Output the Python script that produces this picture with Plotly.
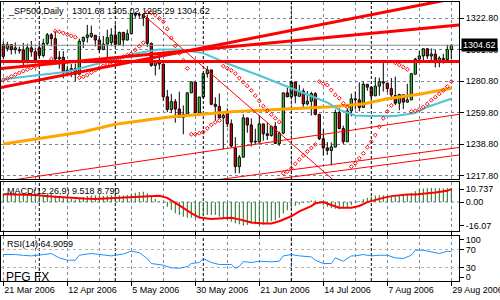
import plotly.graph_objects as go
import pandas as pd

# ---------------- data ----------------
holidays = ["2006-04-14", "2006-05-29", "2006-07-04"]
dates = [d for d in pd.bdate_range("2006-03-21", "2006-08-29") if d.strftime("%Y-%m-%d") not in holidays]

opens = [1305.1, 1302.5, 1305.0, 1301.7, 1300.9, 1301.6, 1293.2, 1302.9, 1300.3,
         1302.9, 1297.8, 1305.9, 1311.6, 1309.0, 1295.5, 1296.6, 1286.6, 1288.1, 1289.1,
         1285.3, 1307.3, 1309.9, 1310.5, 1311.3, 1308.1, 1301.7, 1305.4, 1306.5,
         1311.5, 1305.2, 1313.2, 1308.1, 1312.3, 1325.8, 1324.7, 1325.1, 1322.6, 1305.9, 1291.2, 1294.5,
         1292.1, 1270.3, 1261.8, 1267.0, 1262.1, 1256.6, 1258.6, 1272.9, 1280.0, 1259.4,
         1270.1, 1285.7, 1288.2, 1265.3, 1263.9, 1256.2, 1260.5, 1252.3, 1236.1, 1223.7, 1230.0, 1256.2,
         1251.5, 1240.6, 1240.1, 1252.2, 1245.6, 1244.5, 1250.6, 1239.0, 1246.0, 1272.9,
         1270.1, 1280.1, 1270.6, 1274.1, 1265.5, 1267.3, 1272.4, 1258.6, 1242.3, 1236.2,
         1234.5, 1236.7, 1259.8, 1249.1, 1240.3, 1260.9, 1268.9, 1268.2, 1263.2, 1278.6,
         1276.7, 1270.9, 1277.4, 1280.3, 1279.3, 1275.7, 1271.1, 1266.0, 1271.6, 1266.7,
         1268.2, 1285.3, 1295.4, 1297.5, 1302.3, 1297.5, 1298.7, 1293.0, 1295.9, 1295.1, 1301.68]
highs = [1307.3, 1306.9, 1305.5, 1306.5, 1303.7, 1306.2, 1305.6, 1307.5, 1303.0,
         1305.5, 1308.9, 1312.8, 1312.8, 1314.0, 1300.7, 1300.7, 1290.9, 1292.1, 1292.5,
         1309.0, 1310.4, 1318.2, 1317.7, 1311.3, 1310.8, 1310.8, 1315.0, 1316.0,
         1318.5, 1313.7, 1313.5, 1315.1, 1326.1, 1326.7, 1326.6, 1325.2, 1325.0, 1306.4, 1294.8, 1297.9,
         1292.1, 1274.9, 1272.2, 1268.8, 1273.7, 1264.5, 1273.3, 1280.6, 1280.0, 1270.1,
         1285.7, 1290.7, 1288.2, 1269.9, 1272.5, 1259.9, 1262.6, 1255.2, 1243.4, 1231.5, 1258.6, 1256.3,
         1255.9, 1249.0, 1258.0, 1252.2, 1253.1, 1250.9, 1253.4, 1247.1, 1272.9, 1276.3,
         1280.4, 1280.1, 1278.3, 1275.8, 1274.1, 1273.6, 1273.3, 1258.6, 1248.5, 1240.1,
         1239.9, 1261.8, 1262.6, 1251.0, 1262.5, 1272.4, 1273.9, 1279.9, 1280.4, 1278.6,
         1276.7, 1283.4, 1283.0, 1292.9, 1279.3, 1282.8, 1283.7, 1272.3, 1271.6, 1278.9,
         1286.2, 1296.2, 1300.8, 1302.3, 1302.3, 1302.5, 1301.5, 1297.3, 1298.9, 1305.0, 1305.02]
lows = [1295.2, 1300.5, 1298.5, 1298.9, 1299.0, 1290.4, 1292.5, 1297.0, 1294.2,
        1296.5, 1296.5, 1304.8, 1303.9, 1294.2, 1289.0, 1282.5, 1285.5, 1283.4, 1280.7,
        1285.3, 1302.8, 1306.4, 1309.5, 1303.8, 1299.2, 1301.7, 1295.6, 1304.0,
        1303.5, 1305.2, 1303.9, 1307.9, 1312.3, 1322.9, 1322.5, 1317.4, 1303.5, 1290.3, 1284.5, 1288.5,
        1267.6, 1260.0, 1259.5, 1253.0, 1256.2, 1245.3, 1258.6, 1272.9, 1259.3, 1259.4,
        1269.2, 1283.0, 1264.6, 1254.5, 1255.8, 1235.2, 1250.0, 1236.4, 1219.3, 1219.3, 1230.0, 1246.3,
        1237.2, 1238.9, 1240.1, 1241.0, 1241.4, 1243.7, 1238.9, 1237.6, 1245.3, 1270.2,
        1270.1, 1265.9, 1270.6, 1263.1, 1264.5, 1257.8, 1257.8, 1241.4, 1231.0, 1231.5,
        1224.5, 1236.7, 1248.5, 1238.7, 1240.3, 1257.2, 1261.9, 1260.6, 1263.2, 1274.3,
        1263.6, 1270.9, 1271.0, 1273.8, 1273.2, 1268.4, 1264.7, 1261.3, 1262.1, 1266.7,
        1268.2, 1285.3, 1292.7, 1293.6, 1295.5, 1294.7, 1289.8, 1290.0, 1292.4, 1294.0, 1295.29]
closes = [1297.2, 1305.0, 1301.7, 1302.9, 1301.6, 1293.2, 1302.9, 1300.3, 1294.9,
          1297.8, 1305.9, 1311.6, 1309.0, 1295.5, 1296.6, 1286.6, 1288.1, 1289.1, 1285.3,
          1307.3, 1309.9, 1311.5, 1312.5, 1308.1, 1301.7, 1305.4, 1309.7, 1311.5,
          1305.2, 1313.2, 1308.1, 1312.3, 1325.8, 1324.7, 1325.1, 1322.9, 1305.9, 1291.2, 1294.5, 1292.1,
          1270.3, 1261.8, 1267.0, 1262.1, 1256.6, 1258.6, 1272.9, 1280.2, 1259.7, 1270.1,
          1285.7, 1288.2, 1265.3, 1263.9, 1256.2, 1257.9, 1252.3, 1237.4, 1223.7, 1230.0, 1256.2, 1251.5,
          1240.1, 1240.1, 1252.2, 1245.6, 1244.5, 1250.6, 1239.2, 1246.0, 1272.9, 1270.2,
          1280.2, 1270.9, 1274.1, 1265.5, 1267.3, 1272.4, 1258.6, 1242.3, 1236.2, 1234.5,
          1236.9, 1259.8, 1249.1, 1240.3, 1260.9, 1268.9, 1268.4, 1263.2, 1278.6, 1276.7,
          1270.9, 1277.4, 1280.3, 1279.4, 1275.8, 1271.5, 1266.0, 1271.8, 1266.7, 1268.2,
          1285.6, 1295.4, 1297.5, 1302.3, 1297.5, 1298.8, 1293.0, 1296.1, 1295.1, 1301.8, 1304.62]

# Parabolic SAR dots
sar = [1281.5, 1282.5, 1283.8, 1285.0, 1286.2, 1287.4, 1288.5, 1289.6, 1290.6, 1291.6, 1292.5, 1293.4, 1295.5,
       1314.0, 1313.6, 1312.8, 1311.8, 1310.9, 1310.0,
       1283.0, 1283.6, 1284.8, 1286.4, 1288.0, 1289.5, 1290.9, 1292.2, 1293.5, 1294.7, 1295.8, 1297.0, 1298.0,
       1299.0, 1301.5, 1304.0, 1306.3,
       1326.7, 1326.2, 1324.8, 1322.5, 1320.3, 1315.5, 1309.5, 1304.2, 1299.3, 1294.5, 1289.2,
       1245.3, 1245.3, 1246.0, 1246.8, 1249.3, 1251.6, 1253.3, 1254.5,
       1290.7, 1289.3, 1287.9, 1285.8, 1282.8, 1280.0, 1277.5, 1274.5, 1271.0, 1267.5, 1264.0, 1261.0, 1258.5,
       1256.0, 1253.5,
       1219.3, 1220.4, 1222.5, 1225.6, 1228.5, 1231.2, 1233.8, 1236.2, 1238.5,
       1280.4, 1279.0, 1278.1, 1274.8, 1271.5, 1269.3, 1265.9, 1263.5,
       1223.7, 1225.9, 1229.3, 1232.6, 1236.6, 1240.3, 1244.8, 1250.3, 1255.9, 1260.5, 1264.5,
       1292.9, 1291.5, 1290.0, 1288.5,
       1260.5, 1260.9, 1261.9, 1263.4, 1265.5, 1268.0, 1270.0, 1272.2, 1274.5, 1277.0, 1280.4]

# moving averages (read points: bar index, value)
ma_slow_x = [0, 9, 20, 28, 41, 57, 70, 82, 90, 96, 104, 112]
ma_slow_y = [1238.8, 1242.6, 1247.0, 1251.9, 1256.6, 1260.3, 1262.0, 1263.7, 1265.5, 1269.0, 1272.0, 1276.0]
ma_fast_x = [0, 10, 16, 24, 33, 39, 44, 50, 56, 64, 72, 78, 81, 84, 88, 92, 98, 103, 106, 112]
ma_fast_y = [1281.9, 1284.8, 1287.0, 1292.6, 1299.2, 1301.8, 1301.8, 1299.4, 1292.5, 1284.5, 1276.0, 1270.0,
             1266.5, 1261.5, 1257.8, 1257.5, 1257.5, 1259.5, 1263.5, 1269.0]

# trend lines (bar index, price) end points
thick_up1_x, thick_up1_y = [-1, 114], [1276.2, 1336.5]
thick_up2_x, thick_up2_y = [-1, 114], [1289.0, 1318.2]
thick_flat_x, thick_flat_y = [-1, 114], [1293.8, 1293.8]
thin_down_x, thin_down_y = [35, 87], [1325.0, 1204.4]
thin_a_x, thin_a_y = [-1, 114], [1213.5, 1258.6]
thin_b_x, thin_b_y = [50, 114], [1213.7, 1236.5]
thin_c_x, thin_c_y = [60, 114], [1212.5, 1231.5]

# MACD(12,26,9) histogram and signal
macd = [5.9, 6.3, 5.9, 5.7, 5.4, 4.8, 5.0, 4.8, 4.1,
        4.1, 4.5, 5.2, 5.4, 4.3, 3.6, 2.9, 2.5, 2.0, 1.6,
        2.5, 3.4, 4.1, 4.5, 4.5, 4.1, 4.1, 4.3, 4.5,
        4.3, 4.5, 4.5, 4.8, 5.7, 6.3, 6.8, 7.0, 5.9, 3.9, 2.0, 0.5,
        -0.9, -3.2, -5.4, -7.7, -8.8, -10.0, -10.7, -10.7, -11.1, -10.7, -9.3, -8.8, -8.8, -8.8, -10.0,
        -11.1, -12.2, -13.4, -14.5, -15.2, -16.07, -15.6,
        -14.6, -15.1, -15.8, -15.3, -14.2, -13.0, -12.4, -10.8, -7.8, -5.6, -3.7, -2.6, -1.7, -0.6, 0.3,
        1.0, 1.0, -0.3,
        -2.2, -3.3, -4.2, -4.6, -4.9, -4.4, -3.5, -2.2, -0.8, 0.6, 1.9, 2.8, 3.7, 4.4, 4.6, 4.6, 4.2,
        3.5, 3.7, 4.2, 4.6, 5.3,
        6.2, 7.4, 8.5, 9.2, 9.4, 9.6, 9.4, 9.4, 9.2, 9.4, 9.518]
signal_x = [0, 4, 8, 12, 16, 20, 23, 26, 28, 32, 36, 39, 41, 42, 44, 47, 49, 52, 54, 57, 59, 62, 65, 67,
            69, 72, 74, 77, 78, 80, 82, 84, 87, 89, 91, 93, 95, 97, 101, 103, 106, 108, 111, 112]
signal_y = [5.2, 5.0, 4.7, 3.8, 2.9, 2.3, 2.0, 2.4, 2.9, 3.5, 4.2, 4.3, 2.8, 1.2, -2.3, -7.5, -10.6, -11.6,
            -11.1, -10.7, -11.8, -14.0, -14.6, -14.6, -13.1, -9.7, -6.4, -2.8, -0.9, 0.0, -2.0, -3.9, -3.9,
            -2.7, -0.1, 1.6, 2.8, 4.0, 5.1, 5.1, 5.8, 6.4, 7.6, 8.79]

# RSI(14)
rsi_x = [0, 3, 5, 7, 10, 12, 14, 16, 18, 19, 22, 24, 27, 28, 30, 32, 34, 36, 37, 40, 42, 44, 46, 47, 49,
         50, 52, 54, 57, 58, 59, 60, 62, 64, 67, 69, 70, 72, 74, 77, 78, 80, 82, 83, 85, 87, 88, 90, 92,
         94, 96, 98, 100, 102, 103, 105, 107, 109, 111, 112]
rsi_y = [58.8, 58.8, 57.0, 55.8, 58.8, 61.0, 51.4, 46.2, 46.2, 57.3, 61.1, 58.8, 55.8, 57.3, 60.0, 66.2,
         63.0, 50.0, 38.9, 35.2, 29.2, 28.4, 32.1, 38.9, 41.1, 50.0, 41.1, 36.6, 36.6, 28.4, 32.1, 43.2,
         41.0, 44.0, 42.6, 44.0, 55.8, 58.8, 55.8, 53.6, 46.2, 38.9, 38.9, 51.4, 44.0, 55.8, 55.8, 58.8,
         55.8, 57.3, 57.3, 51.4, 50.0, 57.3, 68.4, 68.4, 64.7, 61.1, 66.2, 64.9]
rsi_levels = [70, 30]

price_ticks = [1322.80, 1301.80, 1280.80, 1259.80, 1238.80, 1217.80]

# ---------------- geometry / style ----------------
W, H = 500, 300
FONT = "Liberation Sans"
GRID = "#778899"
BG = "#FFFFFF"
UP, DOWN = "#33CC33", "#DD0000"


def ydom(top, bottom):
    return [1 - bottom / H, 1 - top / H]


X_L, X_R = 1, 459
BAR0 = 3.3          # pixel centre of first bar
PXB = 4.0           # pixels per bar
xr0 = -(BAR0 - X_L) / PXB
xr1 = xr0 + (X_R - X_L) / PXB

MAIN_T, MAIN_B = 2, 179
P_Y0, P_PX = 18.0, 1.5           # 1322.80 at y=18, 1.5 px per point
pmax = price_ticks[0] + (P_Y0 - MAIN_T) / P_PX
pmin = price_ticks[0] - (MAIN_B - P_Y0) / P_PX

MACD_T, MACD_B = 182, 231
M0, MPX = 202.0, 1.47
mmax = (M0 - MACD_T) / MPX
mmin = -(MACD_B - M0) / MPX

RSI_T, RSI_B = 236, 281

n = len(closes)
idx = list(range(n))

fig = go.Figure()

# month separators (drawn first, behind everything)
month_starts = [i for i in range(1, n) if dates[i].month != dates[i - 1].month]
for yax, lo, hi in [("y", pmin, pmax), ("y2", mmin, mmax), ("y3", 0, 100)]:
    sx, sy = [], []
    for i in month_starts:
        sx += [i, i, None]
        sy += [lo, hi, None]
    fig.add_trace(go.Scatter(x=sx, y=sy, mode="lines", line=dict(color="black", width=1, dash="3px,2px"),
                             yaxis=yax))

# MACD zero line and RSI levels
fig.add_trace(go.Scatter(x=[xr0, xr1], y=[0, 0], mode="lines",
                         line=dict(color=GRID, width=1, dash="3px,3px"), yaxis="y2"))
for lv in rsi_levels:
    fig.add_trace(go.Scatter(x=[xr0, xr1], y=[lv, lv], mode="lines",
                             line=dict(color="#B4B4B4", width=1, dash="3px,3px"), yaxis="y3"))

# candles
body_base = [min(o, c) for o, c in zip(opens, closes)]
body_h = [max(abs(c - o), 0.15) for o, c in zip(opens, closes)]
body_col = [UP if c >= o else DOWN for o, c in zip(opens, closes)]
wx, wy = [], []
for i, (o, h, l, c) in enumerate(zip(opens, highs, lows, closes)):
    wx += [i, i, None, i, i, None]
    wy += [h, max(o, c), None, min(o, c), l, None]
fig.add_trace(go.Bar(x=idx, y=body_h, base=body_base, width=0.55,
                     marker=dict(color=body_col, line=dict(color="black", width=1)),
                     xaxis="x", yaxis="y"))
fig.add_trace(go.Scatter(x=wx, y=wy, mode="lines", line=dict(color="black", width=1),
                         xaxis="x", yaxis="y"))

# moving averages
fig.add_trace(go.Scatter(x=ma_slow_x, y=ma_slow_y, mode="lines",
                         line=dict(color="#FFA500", width=3), yaxis="y"))
fig.add_trace(go.Scatter(x=ma_fast_x, y=ma_fast_y, mode="lines",
                         line=dict(color="#4FC6D4", width=2), yaxis="y"))

# current price line
fig.add_trace(go.Scatter(x=[xr0, xr1], y=[closes[-1], closes[-1]], mode="lines",
                         line=dict(color="#8C8C8C", width=1), yaxis="y"))

# trend lines
for lx, ly, wdt in [(thick_up1_x, thick_up1_y, 3), (thick_up2_x, thick_up2_y, 3),
                    (thick_flat_x, thick_flat_y, 3), (thin_down_x, thin_down_y, 1),
                    (thin_a_x, thin_a_y, 1), (thin_b_x, thin_b_y, 1), (thin_c_x, thin_c_y, 1)]:
    fig.add_trace(go.Scatter(x=lx, y=ly, mode="lines", line=dict(color="#FF0000", width=wdt), yaxis="y"))

# parabolic SAR
fig.add_trace(go.Scatter(x=idx, y=sar, mode="markers",
                         marker=dict(symbol="diamond-open", size=3, color="#FF0000",
                                     line=dict(color="#FF0000", width=1)), yaxis="y"))

# MACD
hx, hy = [], []
for i, v in enumerate(macd):
    hx += [i, i, None]
    hy += [0, v, None]
fig.add_trace(go.Scatter(x=hx, y=hy, mode="lines", line=dict(color="#1E6B1E", width=1), yaxis="y2"))
fig.add_trace(go.Scatter(x=signal_x, y=signal_y, mode="lines", line=dict(color="#FF0000", width=2),
                         yaxis="y2"))

# RSI
fig.add_trace(go.Scatter(x=rsi_x, y=rsi_y, mode="lines", line=dict(color="#1E90FF", width=1), yaxis="y3"))

# ticks
label_idx = list(range(0, n, 16))
label_txt = [f"{dates[i].day} {dates[i].strftime('%b %Y')}" for i in label_idx]
minor_idx = [i for i in range(0, n, 8) if i % 16]

tf = dict(family=FONT, size=9, color="black")
common_y = dict(side="right", anchor="x", ticks="outside", ticklen=4, tickcolor="black",
                showline=True, linecolor="black", linewidth=1, mirror=True, zeroline=False,
                fixedrange=True, tickfont=tf, automargin=False)

fig.update_layout(
    width=W, height=H, margin=dict(l=0, r=0, t=0, b=0, autoexpand=False),
    paper_bgcolor="white", plot_bgcolor=BG, showlegend=False, hovermode=False,
    barmode="overlay",
    xaxis=dict(domain=[X_L / W, X_R / W], range=[xr0, xr1], anchor="y3",
               tickmode="array", tickvals=label_idx, ticktext=label_txt, tickangle=0,
               ticks="outside", ticklen=4, tickcolor="black", ticklabelposition="outside right",
               ticklabeloverflow="allow", automargin=False,
               tickfont=tf, showgrid=True, gridcolor=GRID, griddash="3px,3px", gridwidth=1,
               minor=dict(tickvals=minor_idx, showgrid=True, gridcolor=GRID, griddash="3px,3px",
                          ticks=""),
               showline=True, linecolor="black", linewidth=1, mirror="all", zeroline=False,
               fixedrange=True),
    yaxis=dict(domain=ydom(MAIN_T, MAIN_B), range=[pmin, pmax], tickvals=price_ticks,
               ticktext=[f"{v:.2f}" for v in price_ticks], showgrid=True, gridcolor=GRID,
               griddash="3px,3px", **common_y),
    yaxis2=dict(domain=ydom(MACD_T, MACD_B), range=[mmin, mmax], tickvals=[8.7, 0, -16.07],
                ticktext=["10.737", "0.00", "-16.07"], showgrid=False, **common_y),
    yaxis3=dict(domain=ydom(RSI_T, RSI_B), range=[0, 100], tickvals=[91.5, 70, 30, 8.5],
                ticktext=["100", "70", "30", "0"], showgrid=False, **common_y),
)


def ann(text, px, py, size=9):
    fig.add_annotation(text=text, xref="paper", yref="paper", x=px / W, y=1 - py / H,
                       xanchor="left", yanchor="middle", showarrow=False,
                       font=dict(family=FONT, size=size, color="black"))


ann("_SP500,Daily", 6, 10.5)
ann(f"{opens[-1]:.2f} {highs[-1]:.2f} {lows[-1]:.2f} {closes[-1]:.2f}", 70, 10.5)
ann("MACD(12,26,9) 9.518 8.790", 5, 191)
ann("RSI(14) 64.9059", 5, 243.5)
ann("PFG FX", 4, 277, size=12)
fig.add_annotation(text=f"{closes[-1]:.2f}", xref="paper", yref="y", x=461 / W, y=closes[-1],
                   xanchor="left", yanchor="middle", showarrow=False, bgcolor="black", borderpad=1,
                   font=dict(family=FONT, size=9, color="white"))

fig.write_html("out.html")
